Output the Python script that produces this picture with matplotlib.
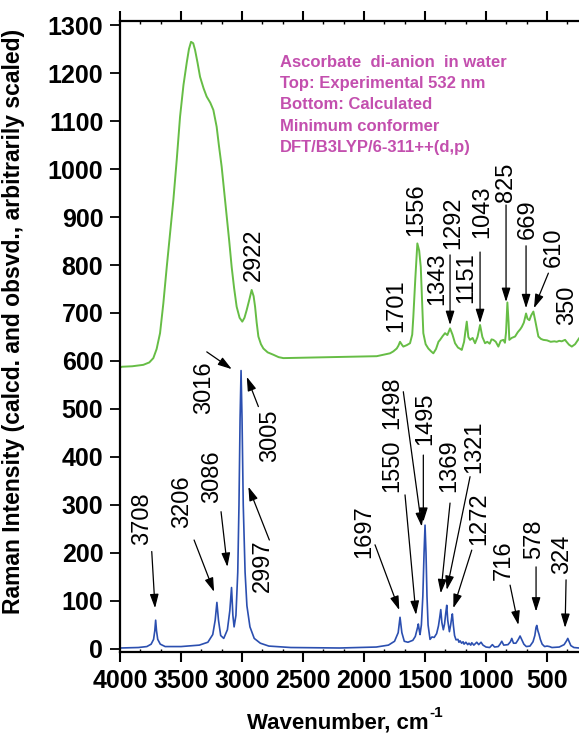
import matplotlib
matplotlib.use('Agg')
import matplotlib.pyplot as plt
from matplotlib.ticker import MultipleLocator

plt.rcParams['font.family'] = ['Liberation Sans', 'DejaVu Sans']

# experimental spectrum (offset upwards)
exp_wn = [4000, 3986, 3900, 3809, 3760, 3727, 3700, 3672, 3645, 3617, 3590, 3563,
          3535, 3508, 3480, 3453, 3435, 3418, 3400, 3385, 3365, 3344, 3315, 3290,
          3260, 3235, 3208, 3190, 3167, 3145, 3126, 3105, 3085, 3065, 3044, 3020,
          2998, 2980, 2962, 2940, 2921, 2905, 2893, 2880, 2866, 2845, 2825, 2790,
          2743, 2700, 2661, 1896, 1860, 1820, 1787, 1760, 1732, 1718, 1705, 1690,
          1678, 1650, 1623, 1605, 1596, 1580, 1563, 1548, 1535, 1520, 1514, 1495,
          1473, 1450, 1432, 1410, 1390, 1377, 1355, 1336, 1317, 1295, 1275, 1254,
          1230, 1210, 1199, 1180, 1170, 1158, 1145, 1131, 1110, 1090, 1070, 1049,
          1030, 1008, 990, 970, 955, 940, 920, 899, 880, 858, 845, 836,
          825, 815, 809, 790, 762, 740, 720, 707, 690, 672, 660, 645,
          630, 612, 595, 571, 550, 530, 500, 470, 440, 421, 400, 380,
          352, 340, 320, 297, 270, 238]
exp_int = [586, 588, 589, 592, 597, 606, 625, 658, 720, 796, 865, 935,
           1020, 1109, 1175, 1222, 1250, 1265, 1262, 1248, 1222, 1192, 1168, 1151,
           1138, 1123, 1088, 1050, 1005, 950, 901, 850, 796, 752, 713, 690,
           682, 690, 706, 728, 748, 735, 713, 680, 651, 635, 626, 618,
           613, 608, 606, 610, 612, 614, 616, 620, 626, 632, 640, 634,
           630, 633, 637, 655, 692, 770, 845, 830, 796, 700, 658, 635,
           626, 620, 616, 625, 640, 644, 652, 658, 654, 668, 655, 637,
           628, 625, 623, 640, 660, 682, 650, 644, 648, 637, 650, 675,
           650, 637, 640, 636, 645, 644, 640, 630, 642, 644, 638, 660,
           722, 680, 644, 648, 651, 660, 666, 671, 680, 699, 688, 685,
           695, 703, 682, 651, 646, 644, 643, 640, 641, 640, 642, 641,
           644, 640, 634, 630, 635, 647]

# calculated spectrum
calc_wn = [4000, 3850, 3780, 3745, 3725, 3715, 3708, 3701, 3691, 3670, 3630, 3500,
           3350, 3280, 3240, 3220, 3206, 3193, 3175, 3150, 3120, 3100, 3086, 3075,
           3065, 3050, 3035, 3025, 3016, 3008, 3000, 2990, 2975, 2960, 2935, 2900,
           2850, 2780, 2600, 2200, 1900, 1800, 1750, 1720, 1705, 1690, 1670, 1640,
           1600, 1580, 1568, 1560, 1555, 1548, 1541, 1530, 1518, 1508, 1500, 1492,
           1484, 1475, 1459, 1443, 1425, 1405, 1390, 1380, 1371, 1362, 1350, 1340,
           1330, 1322, 1314, 1300, 1290, 1280, 1276, 1268, 1258, 1246, 1230, 1222,
           1213, 1200, 1188, 1180, 1165, 1150, 1140, 1125, 1117, 1100, 1076, 1060,
           1041, 1025, 1000, 970, 948, 930, 900, 885, 871, 855, 820, 800,
           789, 775, 755, 735, 721, 705, 690, 670, 640, 615, 600, 590,
           584, 575, 565, 555, 540, 520, 500, 480, 460, 400, 360, 340,
           330, 320, 305, 280, 238]
calc_int = [2, 3, 5, 10, 20, 38, 60, 38, 20, 10, 5, 5,
            8, 14, 30, 60, 97, 60, 28, 22, 40, 80, 128, 70,
            46, 70, 160, 300, 480, 580, 480, 300, 160, 90, 46, 22,
            12, 6, 3, 2, 4, 8, 16, 34, 66, 34, 16, 14,
            18, 26, 38, 46, 52, 40, 30, 50, 110, 200, 258, 200,
            110, 50, 20, 25, 24, 32, 48, 65, 82, 55, 40, 52,
            75, 91, 60, 36, 50, 68, 73, 50, 28, 19, 20, 14,
            17, 12, 15, 10, 14, 9, 12, 8, 13, 8, 14, 9,
            14, 8, 4, 3, 9, 4, 5, 10, 16, 8, 9, 15,
            22, 12, 12, 20, 27, 18, 10, 5, 6, 15, 28, 45,
            49, 38, 30, 20, 10, 5, 6, 5, 3, 4, 9, 17,
            22, 16, 7, 3, 2]

# peak labels without arrows: text, x, y
plain_labels = [("2922", 2902, 821), ("1701", 1732, 715), ("1556", 1574, 915),
                ("1343", 1397, 771), ("1151", 1164, 773), ("350", 336, 717)]

# peak labels with arrows: text, text x, text y, arrow from (x, y), arrow to (x, y)
arrow_labels = [
    ("1292", 1270, 888, 1295, 821, 1295, 675),
    ("1043", 1035, 910, 1049, 827, 1049, 679),
    ("825", 836, 973, 836, 925, 836, 723),
    ("669", 656, 896, 672, 840, 672, 710),
    ("610", 443, 838, 489, 783, 607, 710),
    ("3016", 3311, 544, 3289, 619, 3084, 583),
    ("3005", 2770, 444, 2866, 505, 2961, 567),
    ("2997", 2828, 173, 2776, 227, 2948, 338),
    ("3086", 3242, 358, 3172, 286, 3120, 171),
    ("3206", 3492, 306, 3393, 227, 3229, 119),
    ("3708", 3820, 271, 3740, 203, 3713, 85),
    ("1697", 2000, 244, 1910, 217, 1711, 81),
    ("1550", 1766, 381, 1664, 321, 1574, 71),
    ("1498", 1770, 512, 1678, 536, 1527, 255),
    ("1495", 1500, 479, 1514, 404, 1514, 265),
    ("1369", 1303, 381, 1295, 304, 1371, 116),
    ("1321", 1098, 421, 1131, 359, 1322, 123),
    ("1272", 1057, 271, 1117, 206, 1268, 85),
    ("716", 852, 185, 803, 133, 735, 50),
    ("578", 606, 229, 590, 171, 590, 78),
    ("324", 377, 198, 344, 144, 352, 44),
]

info_lines = ["Ascorbate  di-anion  in water",
              "Top: Experimental 532 nm",
              "Bottom: Calculated",
              "Minimum conformer",
              "DFT/B3LYP/6-311++(d,p)"]

fig = plt.figure(figsize=(5.79, 7.37), dpi=100)
ax = fig.add_axes([0.2073, 0.1149, 0.7927, 0.857])

ax.plot(exp_wn, exp_int, color='#66bd45', lw=1.4)
ax.plot(calc_wn, calc_int, color='#2b4fb0', lw=1.2)

ax.set_xlim(4000, 238)
ax.set_ylim(-7, 1309)

for s, x, y in plain_labels:
    ax.text(x, y, s, rotation=90, ha='center', va='center', fontsize=17)

for s, tx, ty, x0, y0, x1, y1 in arrow_labels:
    ax.text(tx, ty, s, rotation=90, ha='center', va='center', fontsize=17)
    ax.annotate('', xy=(x1, y1), xytext=(x0, y0),
                arrowprops=dict(arrowstyle='-|>,head_length=0.7,head_width=0.22',
                                color='k', lw=0.9, mutation_scale=12,
                                shrinkA=0, shrinkB=0))

for i, line in enumerate(info_lines):
    fig.text(280 / 579, 1 - (67 + 21.2 * i) / 737, line, color='#c34fae',
             fontsize=12, fontweight='bold', va='baseline', ha='left')

ax.spines['right'].set_visible(False)
for side in ['left', 'top', 'bottom']:
    ax.spines[side].set_linewidth(1.6)

ax.xaxis.set_major_locator(MultipleLocator(500))
ax.xaxis.set_minor_locator(MultipleLocator(500 / 3))
ax.yaxis.set_major_locator(MultipleLocator(100))
ax.tick_params(axis='x', which='major', direction='out', length=7, width=1.5,
               top=True, labelsize=18, pad=5)
ax.tick_params(axis='x', which='minor', direction='in', length=2.5, width=1,
               top=True)
ax.tick_params(axis='y', which='major', direction='out', length=7, width=1.3,
               labelsize=18, pad=5)
for lab in ax.get_xticklabels() + ax.get_yticklabels():
    lab.set_fontweight('bold')

fig.text(14 / 579, 1 - 321 / 737,
         'Raman Intensity (calcd. and obsvd., arbitrarily scaled)',
         rotation=90, ha='center', va='center', fontsize=16.5, fontweight='bold')

# x label with a plain "-1" superscript
xl = fig.text(338 / 579, 1 - 729 / 737, 'Wavenumber, cm',
              ha='center', va='baseline', fontsize=16, fontweight='bold')
fig.canvas.draw()
bb = xl.get_window_extent(fig.canvas.get_renderer())
fig.text((bb.x1 + 1) / 579, 1 - 717 / 737, '-1', ha='left', va='baseline',
         fontsize=11, fontweight='bold')

fig.savefig('out.png', dpi=100)
